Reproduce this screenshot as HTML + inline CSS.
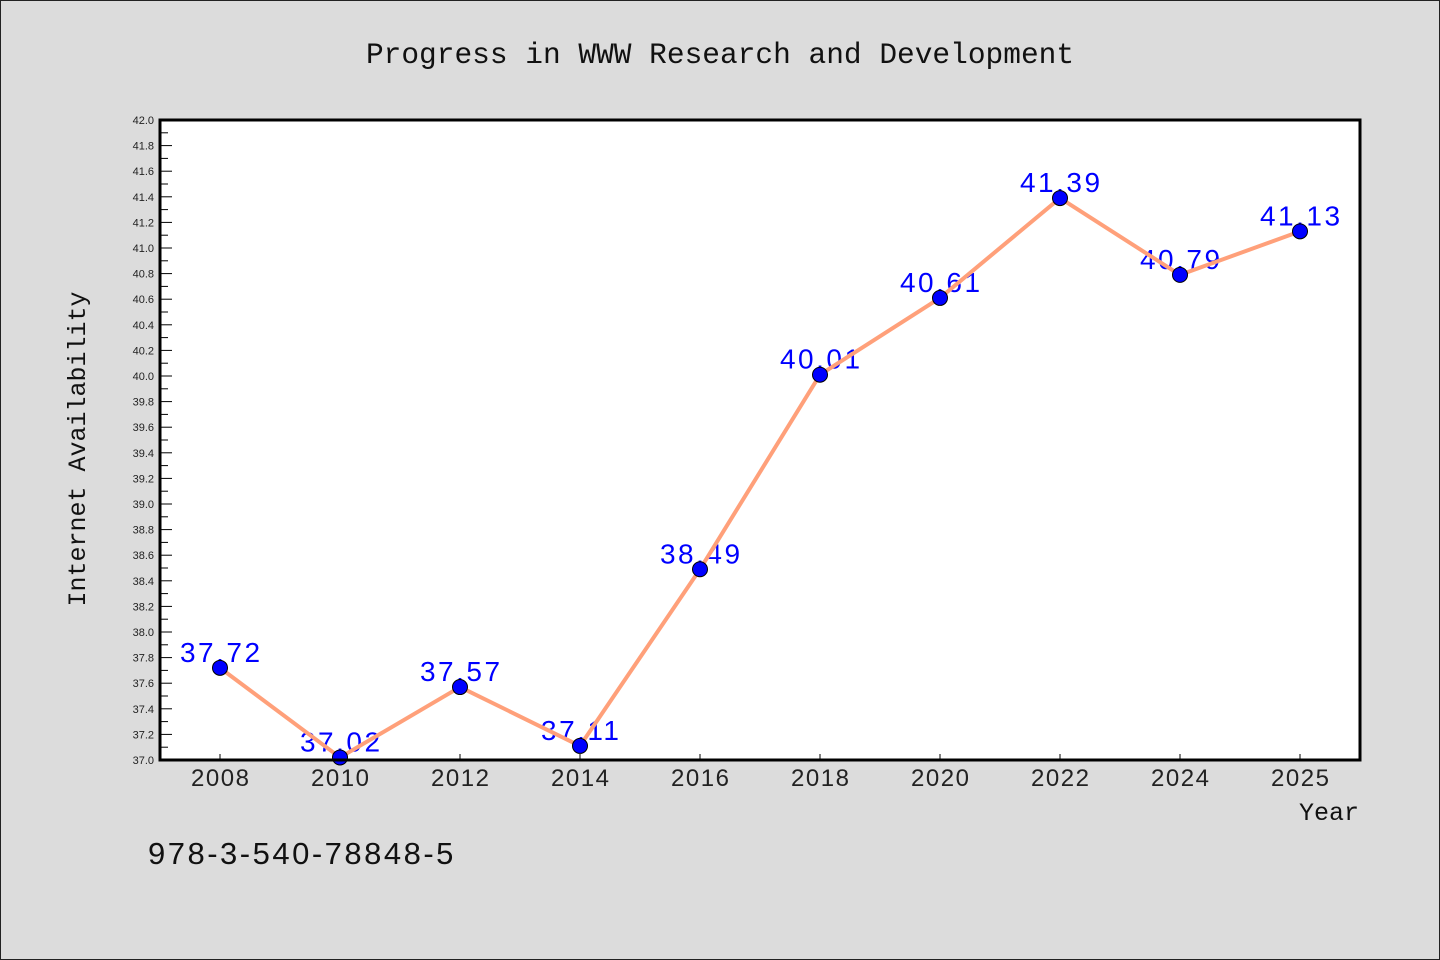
<!DOCTYPE html>
<html><head><meta charset="utf-8">
<style>
html,body{margin:0;padding:0;background:#dcdcdc;}
svg{display:block;}
</style></head>
<body>
<svg id="chart" width="1440" height="960" xmlns="http://www.w3.org/2000/svg">
<rect x="0.5" y="0.5" width="1439" height="959" fill="#dcdcdc" stroke="#222" stroke-width="1"/>
<text x="720" y="63" text-anchor="middle" font-family="'Liberation Mono', monospace" font-size="29.5" fill="#111">Progress in WWW Research and Development</text>
<rect x="160" y="120" width="1200" height="640" fill="#fff"/>
<g id="grid"></g>
<g id="series"></g>
<rect x="160" y="120" width="1200" height="640" fill="none" stroke="#000" stroke-width="3"/>
<text transform="translate(85,449) rotate(-90)" text-anchor="middle" font-family="'Liberation Mono', monospace" font-size="25" fill="#111">Internet Availability</text>
<text x="1359" y="820" text-anchor="end" font-family="'Liberation Mono', monospace" font-size="25" fill="#111">Year</text>
<text x="148" y="864" font-family="'Liberation Sans', sans-serif" font-size="31" letter-spacing="2.5" fill="#111">978-3-540-78848-5</text>
</svg>
<script>
const categories = ["2008","2010","2012","2014","2016","2018","2020","2022","2024","2025"];
const values = [37.72,37.02,37.57,37.11,38.49,40.01,40.61,41.39,40.79,41.13];
const valueLabels = ["37.72","37.02","37.57","37.11","38.49","40.01","40.61","41.39","40.79","41.13"];
const yMin = 37.0, yMax = 42.0;

const NS = "http://www.w3.org/2000/svg";
const L = 160, R = 1360, T = 120, B = 760;
const xScale = i => L + (R - L) / categories.length * (i + 0.5);
const yScale = v => B - (v - yMin) / (yMax - yMin) * (B - T);
function mk(tag, attrs, parent) {
  const e = document.createElementNS(NS, tag);
  for (const k in attrs) e.setAttribute(k, attrs[k]);
  parent.appendChild(e);
  return e;
}
const grid = document.getElementById('grid');
const series = document.getElementById('series');

const nMinor = Math.round((yMax - yMin) / 0.1);
for (let i = 0; i <= nMinor; i++) {
  const v = yMin + i * 0.1;
  const y = yScale(v);
  const major = i % 2 === 0;
  const t = mk('line', {x1: L, x2: L + (major ? 12 : 8), y1: y, y2: y, stroke: '#000', 'stroke-width': 1}, grid);
  
  
  if (major) {
    const lb = mk('text', {x: L - 6, y: y + 4, 'text-anchor': 'end', 'font-family': "'Liberation Sans', sans-serif", 'font-size': 11, fill: '#222'}, grid);
    lb.textContent = v.toFixed(1);
    
    
  }
}
categories.forEach((c, i) => {
  const x = xScale(i);
  const t = mk('line', {x1: x, x2: x, y1: B, y2: B - 6, stroke: '#000', 'stroke-width': 1}, grid);
  
  
  const lb = mk('text', {x: x + 0.75, y: B + 26, 'text-anchor': 'middle', 'font-family': "'Liberation Sans', sans-serif", 'font-size': 24, 'letter-spacing': 1.5, fill: '#222'}, grid);
  lb.textContent = c;
  
  
});
values.forEach((v, i) => {
  const lb = mk('text', {x: xScale(i) + 1.25, y: yScale(v) - 6, 'text-anchor': 'middle', 'font-family': "'Liberation Sans', sans-serif", 'font-size': 28, 'letter-spacing': 2.5, fill: '#0000ff'}, series);
  lb.textContent = valueLabels[i];
  
  
});
const pts = values.map((v, i) => xScale(i) + ',' + yScale(v)).join(' ');
const line = mk('polyline', {points: pts, fill: 'none', stroke: '#ffa07a', 'stroke-width': 4, 'stroke-linejoin': 'round'}, series);


values.forEach((v, i) => {
  const c = mk('circle', {cx: xScale(i), cy: yScale(v), r: 7.5, fill: '#0000ff', stroke: '#000', 'stroke-width': 1}, series);
  
  
});
</script>
</body></html>
